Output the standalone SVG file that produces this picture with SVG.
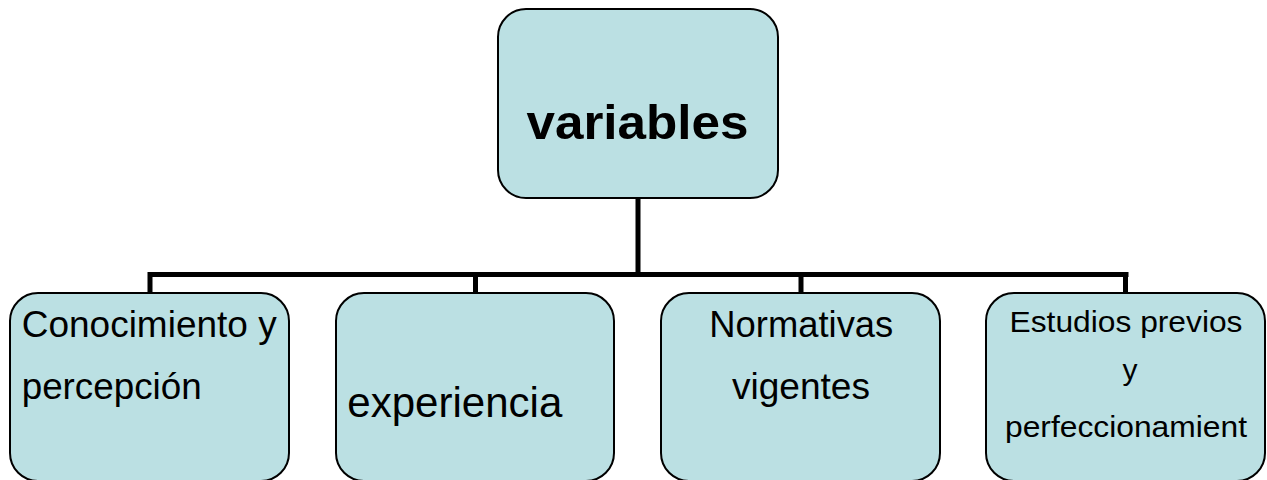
<svg xmlns="http://www.w3.org/2000/svg" width="1267" height="480" viewBox="0 0 1267 480">
<style>
.box{fill:#BBE0E3;stroke:#000;stroke-width:2}
.t{font-family:"Liberation Sans",Arial,sans-serif;fill:#000}
.c{fill:none;stroke:#000;stroke-width:5;stroke-linecap:butt}
</style>
<rect width="1267" height="480" fill="#fff"/>
<g id="connectors">
<path class="c" d="M638 198V274.5M147.5 274.5H1128.5M150 274.5V293M475.5 274.5V293M801 274.5V293M1125.5 274.5V293"/>
</g>
<g id="variables">
<rect class="box" x="498" y="9" width="280" height="189" rx="28" ry="28"/>
<text class="t" x="637.5" y="139.3" font-size="49" font-weight="bold" text-anchor="middle" textLength="222" lengthAdjust="spacingAndGlyphs">variables</text>
</g>
<g id="conocimiento">
<rect class="box" x="10" y="293" width="279" height="188" rx="28" ry="28"/>
<text class="t" x="21.7" y="337" font-size="36" textLength="255" lengthAdjust="spacingAndGlyphs">Conocimiento y</text>
<text class="t" x="21.7" y="399" font-size="36" textLength="180" lengthAdjust="spacingAndGlyphs">percepción</text>
</g>
<g id="experiencia">
<rect class="box" x="336" y="293" width="278" height="188" rx="28" ry="28"/>
<text class="t" x="347.3" y="416.5" font-size="42" textLength="215" lengthAdjust="spacingAndGlyphs">experiencia</text>
</g>
<g id="normativas">
<rect class="box" x="661" y="293" width="279" height="188" rx="28" ry="28"/>
<text class="t" x="801.3" y="337" font-size="36" text-anchor="middle" textLength="184" lengthAdjust="spacingAndGlyphs">Normativas</text>
<text class="t" x="801" y="399" font-size="36" text-anchor="middle" textLength="138" lengthAdjust="spacingAndGlyphs">vigentes</text>
</g>
<g id="estudios">
<rect class="box" x="986" y="293" width="279" height="188" rx="28" ry="28"/>
<text class="t" x="1126" y="332" font-size="30" text-anchor="middle" textLength="233" lengthAdjust="spacingAndGlyphs">Estudios previos</text>
<text class="t" x="1130" y="380" font-size="30" text-anchor="middle">y</text>
<text class="t" x="1126" y="437" font-size="30" text-anchor="middle" textLength="242" lengthAdjust="spacingAndGlyphs">perfeccionamient</text>
</g>
</svg>
